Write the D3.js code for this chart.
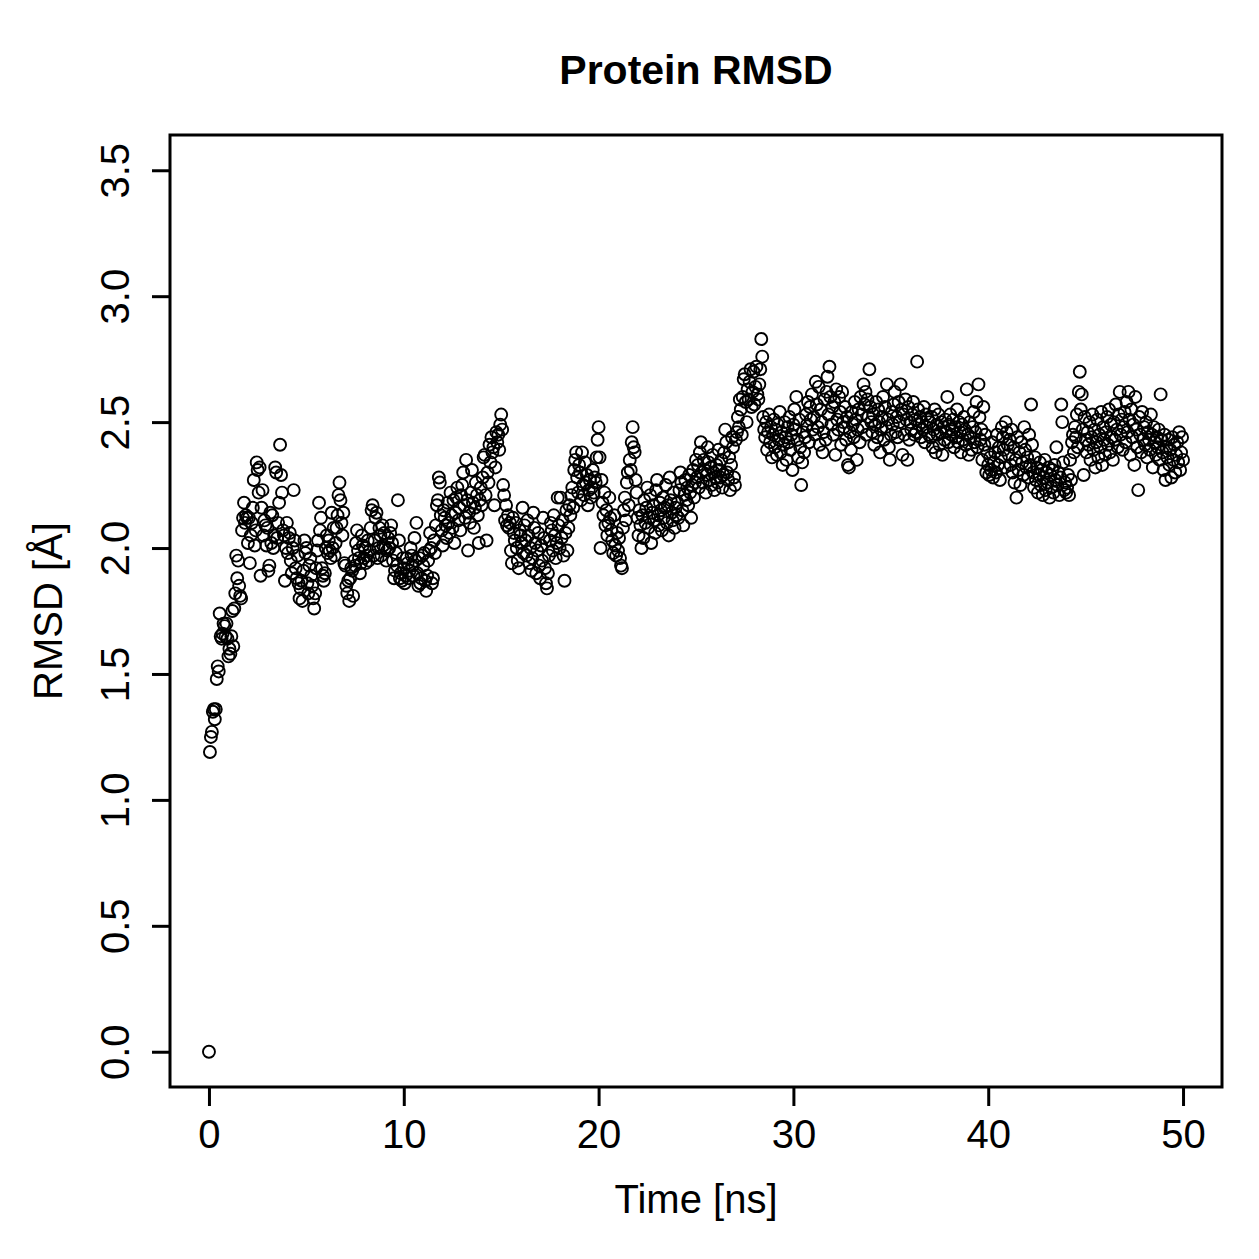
<!DOCTYPE html>
<html>
<head>
<meta charset="utf-8">
<script src="https://cdn.jsdelivr.net/npm/d3@7"></script>
<style>
  body { margin: 0; background: #fff; }
  svg text { font-family: "Liberation Sans", Arial, Helvetica, sans-serif; fill: #000; }
</style>
</head>
<body>
<svg id="chart"></svg>
<script>
// Datos (RMSD en Å, un valor cada 0.05 ns)
const timeStep = 0.05;
const rmsdStart = [0.00];
const rmsd0to10 = [
  1.19, 1.25, 1.27, 1.35, 1.36, 1.32, 1.36, 1.48, 1.53, 1.51, 1.74, 1.65, 1.64, 1.66, 1.70, 1.69, 1.65, 1.70, 1.64, 1.57,
  1.60, 1.58, 1.65, 1.75, 1.61, 1.76, 1.82, 1.97, 1.88, 1.95, 1.85, 1.81, 1.80, 2.07, 2.12, 2.18, 2.10, 2.13, 2.12, 2.02,
  2.12, 1.94, 2.05, 2.10, 2.16, 2.27, 2.01, 2.07, 2.34, 2.31, 2.22, 2.32, 1.89, 2.16, 2.23, 2.05, 2.11, 2.09, 2.01, 2.08,
  1.91, 1.93, 2.14, 2.02, 2.13, 2.00, 2.05, 2.32, 2.30, 2.04, 2.10, 2.18, 2.41, 2.29, 2.22, 2.07, 2.05, 1.87, 2.00, 2.10,
  1.98, 2.04, 2.06, 1.95, 1.90, 2.00, 2.23, 2.03, 1.92, 1.88, 1.97, 1.86, 1.80, 1.84, 1.87, 1.79, 1.91, 2.03, 1.98, 2.00,
  1.86, 1.82, 1.93, 1.96, 1.89, 1.85, 1.80, 1.76, 1.82, 1.92, 1.99, 2.03, 2.18, 2.07, 2.12, 1.92, 1.89, 1.87, 1.90, 2.00,
  2.05, 1.98, 2.03, 1.99, 1.96, 2.14, 2.00, 2.08, 1.97, 2.02, 2.08, 2.13, 2.21, 2.26, 2.19, 2.10, 2.05, 2.14, 1.94, 1.93,
  1.85, 1.82, 1.87, 1.79, 1.88, 1.92, 1.91, 1.81, 1.95, 1.93, 2.02, 2.07, 1.99, 1.96, 1.90, 1.94, 2.05, 2.01, 1.96, 2.00,
  1.94, 1.97, 2.03, 1.95, 1.99, 2.08, 2.15, 2.17, 1.97, 2.03, 2.12, 2.14, 1.96, 2.00, 2.08, 2.05, 1.97, 2.09, 2.01, 2.06,
  2.00, 1.95, 1.99, 2.04, 2.00, 2.06, 2.09, 2.02, 1.95, 1.88, 1.91, 1.98, 1.93, 2.19, 2.03, 1.88, 1.90, 1.87, 1.96, 1.92
];
const rmsd10to20 = [
  1.86, 1.89, 1.96, 1.94, 1.88, 1.91, 2.00, 1.97, 1.93, 1.89, 2.04, 1.95, 2.10, 1.90, 1.85, 1.96, 1.86, 1.88, 1.97, 1.93,
  1.98, 1.87, 1.83, 1.89, 1.95, 1.99, 2.06, 2.00, 1.86, 1.88, 2.03, 1.98, 2.09, 2.17, 2.19, 2.28, 2.26, 2.13, 2.07, 2.01,
  2.15, 2.12, 2.09, 2.04, 2.18, 2.10, 2.06, 2.22, 2.13, 2.08, 2.19, 2.02, 2.14, 2.20, 2.24, 2.11, 2.16, 2.07, 2.21, 2.25,
  2.30, 2.17, 2.12, 2.35, 2.19, 1.99, 2.14, 2.10, 2.22, 2.31, 2.18, 2.08, 2.16, 2.26, 2.21, 2.13, 2.02, 2.19, 2.24, 2.17,
  2.28, 2.36, 2.37, 2.21, 2.03, 2.30, 2.26, 2.41, 2.34, 2.44, 2.38, 2.40, 2.17, 2.32, 2.46, 2.42, 2.45, 2.39, 2.49, 2.53,
  2.47, 2.25, 2.21, 2.11, 2.17, 2.09, 2.13, 2.08, 2.10, 1.99, 1.94, 2.12, 2.06, 2.03, 2.10, 2.00, 1.95, 1.92, 2.07, 2.05,
  2.02, 2.16, 1.98, 2.09, 2.03, 1.97, 2.11, 2.05, 1.94, 2.00, 1.91, 1.96, 2.14, 2.08, 2.02, 1.90, 1.99, 2.06, 1.93, 1.88,
  2.01, 1.95, 2.12, 2.04, 1.92, 1.86, 1.84, 1.90, 1.97, 2.03, 2.10, 2.07, 1.99, 2.13, 2.05, 1.96, 2.02, 2.20, 2.09, 2.00,
  2.20, 2.04, 2.11, 1.97, 1.87, 2.06, 2.15, 1.99, 2.08, 2.17, 2.13, 2.21, 2.24, 2.16, 2.31, 2.35, 2.38, 2.28, 2.22, 2.33,
  2.30, 2.19, 2.38, 2.25, 2.21, 2.34, 2.26, 2.29, 2.17, 2.23, 2.27, 2.20, 2.24, 2.31, 2.22, 2.28, 2.26, 2.36, 2.43, 2.48
];
const rmsd20to30 = [
  2.36, 2.00, 2.27, 2.18, 2.13, 2.22, 2.09, 2.15, 2.05, 2.10, 2.20, 2.12, 2.07, 2.03, 1.98, 2.13, 2.01, 1.97, 2.06, 1.99,
  2.04, 1.96, 1.93, 1.92, 2.08, 2.15, 2.20, 2.11, 2.26, 2.30, 2.17, 2.35, 2.31, 2.42, 2.48, 2.40, 2.38, 2.27, 2.22, 2.12,
  2.05, 2.15, 2.09, 2.00, 2.13, 2.04, 2.19, 2.10, 2.16, 2.24, 2.08, 2.12, 2.21, 2.02, 2.14, 2.17, 2.11, 2.06, 2.23, 2.27,
  2.13, 2.09, 2.18, 2.15, 2.07, 2.20, 2.12, 2.16, 2.25, 2.10, 2.17, 2.05, 2.28, 2.19, 2.14, 2.11, 2.22, 2.08, 2.16, 2.13,
  2.18, 2.12, 2.23, 2.30, 2.26, 2.15, 2.09, 2.21, 2.27, 2.19, 2.24, 2.17, 2.29, 2.22, 2.12, 2.25, 2.31, 2.20, 2.26, 2.35,
  2.28, 2.33, 2.24, 2.38, 2.42, 2.30, 2.26, 2.35, 2.31, 2.22, 2.29, 2.40, 2.34, 2.27, 2.32, 2.25, 2.37, 2.30, 2.23, 2.28,
  2.33, 2.26, 2.39, 2.31, 2.28, 2.35, 2.24, 2.29, 2.38, 2.47, 2.42, 2.30, 2.27, 2.36, 2.23, 2.33, 2.44, 2.40, 2.28, 2.25,
  2.43, 2.46, 2.52, 2.48, 2.59, 2.55, 2.45, 2.60, 2.67, 2.69, 2.58, 2.50, 2.63, 2.59, 2.66, 2.71, 2.56, 2.62, 2.70, 2.57,
  2.64, 2.72, 2.61, 2.59, 2.65, 2.71, 2.83, 2.76, 2.52, 2.47, 2.44, 2.50, 2.39, 2.46, 2.53, 2.42, 2.48, 2.36, 2.45, 2.51,
  2.40, 2.47, 2.37, 2.49, 2.43, 2.54, 2.38, 2.46, 2.33, 2.41, 2.50, 2.44, 2.35, 2.48, 2.42, 2.52, 2.39, 2.45, 2.31, 2.49
];
const rmsd30to40 = [
  2.55, 2.47, 2.60, 2.43, 2.36, 2.51, 2.40, 2.25, 2.34, 2.46, 2.38, 2.44, 2.53, 2.49, 2.58, 2.42, 2.56, 2.51, 2.61, 2.47,
  2.52, 2.45, 2.66, 2.57, 2.48, 2.64, 2.41, 2.55, 2.50, 2.38, 2.46, 2.59, 2.43, 2.62, 2.68, 2.53, 2.72, 2.60, 2.49, 2.56,
  2.45, 2.58, 2.37, 2.63, 2.51, 2.47, 2.60, 2.54, 2.41, 2.62, 2.50, 2.48, 2.56, 2.43, 2.52, 2.33, 2.32, 2.46, 2.39, 2.54,
  2.49, 2.44, 2.58, 2.51, 2.35, 2.47, 2.55, 2.42, 2.60, 2.53, 2.48, 2.65, 2.57, 2.62, 2.45, 2.59, 2.52, 2.71, 2.56, 2.50,
  2.46, 2.53, 2.41, 2.49, 2.58, 2.44, 2.55, 2.50, 2.38, 2.47, 2.52, 2.60, 2.43, 2.56, 2.48, 2.65, 2.51, 2.40, 2.35, 2.45,
  2.54, 2.49, 2.57, 2.62, 2.46, 2.52, 2.44, 2.58, 2.50, 2.65, 2.55, 2.37, 2.53, 2.45, 2.59, 2.51, 2.35, 2.56, 2.43, 2.50,
  2.47, 2.53, 2.58, 2.45, 2.51, 2.46, 2.74, 2.55, 2.49, 2.52, 2.44, 2.50, 2.47, 2.56, 2.42, 2.53, 2.48, 2.51, 2.45, 2.50,
  2.44, 2.52, 2.40, 2.47, 2.55, 2.38, 2.49, 2.45, 2.53, 2.41, 2.46, 2.50, 2.37, 2.48, 2.43, 2.51, 2.46, 2.60, 2.42, 2.49,
  2.53, 2.45, 2.47, 2.51, 2.40, 2.48, 2.44, 2.55, 2.42, 2.50, 2.46, 2.38, 2.49, 2.43, 2.52, 2.47, 2.41, 2.63, 2.45, 2.37,
  2.50, 2.44, 2.39, 2.48, 2.54, 2.42, 2.46, 2.58, 2.40, 2.65, 2.52, 2.43, 2.47, 2.35, 2.56, 2.41, 2.45, 2.30, 2.38, 2.33
];
const rmsd40to50 = [
  2.29, 2.36, 2.31, 2.42, 2.28, 2.34, 2.38, 2.30, 2.45, 2.33, 2.40, 2.27, 2.36, 2.48, 2.44, 2.39, 2.32, 2.50, 2.46, 2.41,
  2.37, 2.43, 2.33, 2.47, 2.30, 2.40, 2.26, 2.35, 2.20, 2.44, 2.31, 2.38, 2.25, 2.42, 2.34, 2.29, 2.48, 2.39, 2.32, 2.36,
  2.28, 2.45, 2.33, 2.57, 2.41, 2.30, 2.24, 2.36, 2.27, 2.32, 2.22, 2.29, 2.34, 2.25, 2.31, 2.21, 2.28, 2.35, 2.23, 2.30,
  2.26, 2.32, 2.20, 2.29, 2.24, 2.31, 2.22, 2.33, 2.27, 2.40, 2.25, 2.30, 2.21, 2.28, 2.57, 2.50, 2.34, 2.23, 2.26, 2.22,
  2.24, 2.29, 2.21, 2.35, 2.27, 2.42, 2.45, 2.38, 2.48, 2.44, 2.53, 2.40, 2.62, 2.70, 2.55, 2.61, 2.47, 2.29, 2.52, 2.43,
  2.38, 2.46, 2.41, 2.50, 2.35, 2.44, 2.53, 2.39, 2.47, 2.32, 2.42, 2.51, 2.36, 2.45, 2.40, 2.54, 2.33, 2.48, 2.43, 2.37,
  2.46, 2.52, 2.41, 2.55, 2.38, 2.49, 2.44, 2.35, 2.50, 2.43, 2.57, 2.47, 2.40, 2.53, 2.62, 2.45, 2.51, 2.39, 2.48, 2.54,
  2.42, 2.58, 2.46, 2.62, 2.51, 2.37, 2.55, 2.44, 2.49, 2.33, 2.60, 2.47, 2.40, 2.23, 2.52, 2.45, 2.38, 2.54, 2.43, 2.48,
  2.41, 2.50, 2.36, 2.46, 2.43, 2.39, 2.53, 2.45, 2.32, 2.48, 2.42, 2.37, 2.44, 2.40, 2.47, 2.35, 2.61, 2.43, 2.38, 2.31,
  2.45, 2.27, 2.40, 2.36, 2.43, 2.33, 2.39, 2.28, 2.44, 2.35, 2.41, 2.30, 2.37, 2.42, 2.34, 2.46, 2.31, 2.38, 2.44, 2.35
];
const xTicks = [0, 10, 20, 30, 40, 50];
const yTicks = [0, 0.5, 1, 1.5, 2, 2.5, 3, 3.5];
const yTickLabels = ["0.0", "0.5", "1.0", "1.5", "2.0", "2.5", "3.0", "3.5"];

const rmsd = rmsdStart.concat(rmsd0to10, rmsd10to20, rmsd20to30, rmsd30to40, rmsd40to50);
const dataset = rmsd.map((v, i) => [i * timeStep, v]);

// Configuracion
const width = 1259;
const height = 1259;
const plot = { left: 170, right: 1222, top: 135, bottom: 1087 };
const fontSize = 40;

const svg = d3.select("#chart")
    .attr("width", width)
    .attr("height", height);

// Escalas (con la extension del 4% de R)
const xScale = d3.scaleLinear()
    .domain([-2, 52])
    .range([plot.left, plot.right]);

const yScale = d3.scaleLinear()
    .domain([-0.14, 3.64])
    .range([plot.bottom, plot.top]);

// Puntos
svg.append("g")
    .selectAll("circle")
    .data(dataset)
    .enter()
    .append("circle")
    .attr("cx", d => xScale(d[0]))
    .attr("cy", d => yScale(d[1]))
    .attr("r", 6)
    .attr("fill", "none")
    .attr("stroke", "#000")
    .attr("stroke-width", 1.9);

// Ejes
const xAxis = d3.axisBottom(xScale).tickValues(xTicks).tickSize(19);
const yAxis = d3.axisLeft(yScale).tickValues(yTicks).tickSize(18)
    .tickFormat((d, i) => yTickLabels[i]);

const gx = svg.append("g")
    .attr("transform", `translate(0, ${plot.bottom})`)
    .call(xAxis);
gx.select(".domain").remove();
gx.selectAll(".tick line").attr("stroke", "#000").attr("stroke-width", 3);
gx.selectAll(".tick text")
    .attr("y", 61)
    .attr("dy", null)
    .style("font-size", fontSize + "px")
    .attr("fill", "#000");

const gy = svg.append("g")
    .attr("transform", `translate(${plot.left}, 0)`)
    .call(yAxis);
gy.select(".domain").remove();
gy.selectAll(".tick line").attr("stroke", "#000").attr("stroke-width", 3);
gy.selectAll(".tick text")
    .attr("x", null)
    .attr("dy", null)
    .attr("text-anchor", "middle")
    .attr("transform", "translate(-41.5, 0) rotate(-90)")
    .style("font-size", fontSize + "px")
    .attr("fill", "#000");

// Marco
svg.append("rect")
    .attr("x", plot.left)
    .attr("y", plot.top)
    .attr("width", plot.right - plot.left)
    .attr("height", plot.bottom - plot.top)
    .attr("fill", "none")
    .attr("stroke", "#000")
    .attr("stroke-width", 3);

// Titulos
svg.append("text")
    .attr("x", (plot.left + plot.right) / 2)
    .attr("y", 84)
    .attr("text-anchor", "middle")
    .style("font-size", "41px")
    .style("font-weight", "bold")
    .text("Protein RMSD");

svg.append("text")
    .attr("x", (plot.left + plot.right) / 2)
    .attr("y", 1213)
    .attr("text-anchor", "middle")
    .style("font-size", fontSize + "px")
    .text("Time [ns]");

svg.append("text")
    .attr("transform", `translate(62, ${(plot.top + plot.bottom) / 2}) rotate(-90)`)
    .attr("text-anchor", "middle")
    .style("font-size", fontSize + "px")
    .text("RMSD [Å]");
</script>
</body>
</html>
